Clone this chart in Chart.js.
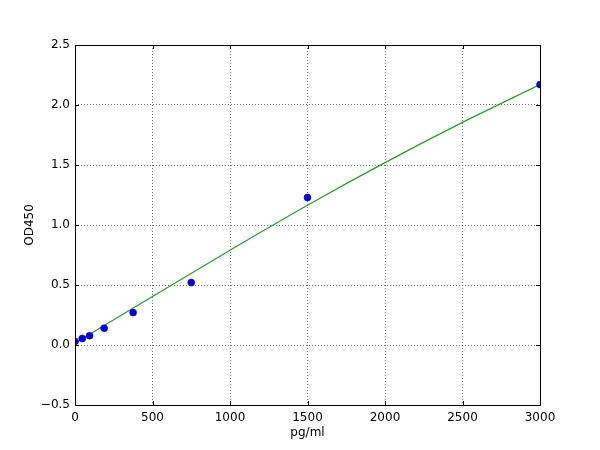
<!DOCTYPE html>
<html>
<head>
<meta charset="UTF-8">
<title>OD450 standard curve</title>
<style>
    body { margin: 0; background: #fff; }
    #wrap { width: 600px; height: 450px; }
</style>
</head>
<body>
<div id="wrap"><canvas id="chart" width="600" height="450"></canvas></div>
<script src="https://cdn.jsdelivr.net/npm/chart.js"></script>
<script>
// standard points
const concentrations = [0, 47, 94, 188, 375, 750, 1500, 3000];
const odValues = [0.03, 0.055, 0.078, 0.14, 0.27, 0.52, 1.23, 2.17];
// fitted curve
const fitX = [0, 500, 1000, 1500, 2000, 2500, 3000];
const fitY = [0.015, 0.405, 0.79, 1.165, 1.52, 1.855, 2.17];
const xTicks = [0, 500, 1000, 1500, 2000, 2500, 3000];
const yTicks = [-0.5, 0.0, 0.5, 1.0, 1.5, 2.0, 2.5];

const font = { family: 'DejaVu Sans', size: 12 };

// matplotlib style frame + inward ticks
const framePlugin = {
    id: 'frame',
    afterDraw(chart) {
        const ctx = chart.ctx, a = chart.chartArea;
        const xs = chart.scales.x, ys = chart.scales.y;
        ctx.save();
        ctx.strokeStyle = '#000';
        ctx.lineWidth = 1;
        ctx.strokeRect(a.left + 0.5, a.top + 0.5, a.right - a.left, a.bottom - a.top);
        ctx.beginPath();
        xTicks.forEach(v => {
            const p = Math.round(xs.getPixelForValue(v)) + 0.5;
            ctx.moveTo(p, a.bottom); ctx.lineTo(p, a.bottom - 4);
            ctx.moveTo(p, a.top); ctx.lineTo(p, a.top + 4);
        });
        yTicks.forEach(v => {
            const p = Math.round(ys.getPixelForValue(v)) + 0.5;
            ctx.moveTo(a.left, p); ctx.lineTo(a.left + 4, p);
            ctx.moveTo(a.right, p); ctx.lineTo(a.right - 4, p);
        });
        ctx.stroke();
        ctx.restore();
    }
};

new Chart(document.getElementById('chart').getContext('2d'), {
    type: 'scatter',
    data: {
        datasets: [
            {
                data: fitX.map((x, i) => ({ x: x, y: fitY[i] })),
                showLine: true,
                borderColor: '#2a9a2a',
                borderWidth: 1.2,
                pointRadius: 0,
                cubicInterpolationMode: 'monotone',
                order: 2
            },
            {
                data: concentrations.map((x, i) => ({ x: x, y: odValues[i] })),
                backgroundColor: '#0000e0',
                borderColor: '#00007a',
                borderWidth: 0.5,
                pointRadius: 3.5,
                order: 1
            }
        ]
    },
    options: {
        responsive: false,
        animation: false,
        layout: { padding: { left: 0, right: 60, top: 45, bottom: 0 } },
        plugins: { legend: { display: false }, tooltip: { enabled: false } },
        scales: {
            x: {
                type: 'linear', min: 0, max: 3000,
                afterBuildTicks: s => { s.ticks = xTicks.map(v => ({ value: v })); },
                afterFit: s => { s.height = 45; },
                grid: { color: 'rgba(0,0,0,0.55)', drawTicks: false, lineWidth: 1 },
                border: { display: false, dash: [1, 2] },
                ticks: { color: '#000', font: font, padding: 6, maxRotation: 0, callback: v => String(v) },
                title: { display: true, text: 'pg/ml', color: '#000', font: font, padding: { top: 0, bottom: 10 } }
            },
            y: {
                type: 'linear', min: -0.5, max: 2.5,
                afterBuildTicks: s => { s.ticks = yTicks.map(v => ({ value: v })); },
                afterFit: s => { s.width = 75; },
                grid: { color: 'rgba(0,0,0,0.55)', drawTicks: false, lineWidth: 1 },
                border: { display: false, dash: [1, 2] },
                ticks: {
                    color: '#000', font: font, padding: 5,
                    callback: v => (v < 0 ? '\u2212' + Math.abs(v).toFixed(1) : v.toFixed(1))
                },
                title: { display: true, text: 'OD450', color: '#000', font: font, padding: { top: 23, bottom: 0 } }
            }
        }
    },
    plugins: [framePlugin]
});
</script>
</body>
</html>
